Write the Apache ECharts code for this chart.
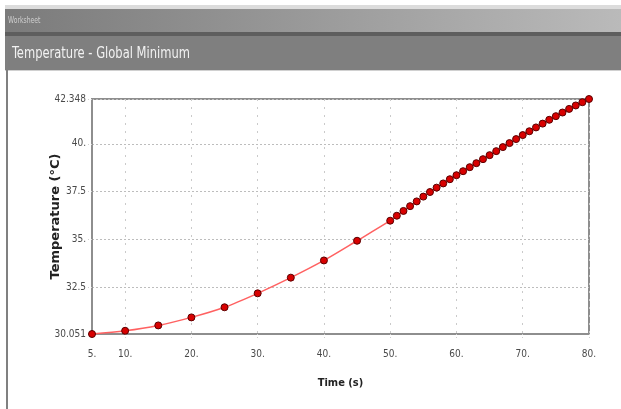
<!DOCTYPE html>
<html>
<head>
<meta charset="utf-8">
<script src="https://cdn.jsdelivr.net/npm/echarts@6/dist/echarts.min.js"></script>
<style>
html,body{margin:0;padding:0;background:#fff;}
#chart{width:621px;height:409px;}
</style>
</head>
<body>
<div id="chart"></div>
<script>
// ---- data ----
var timeValues = [5, 10, 15, 20, 25, 30, 35, 40, 45,
  50, 51, 52, 53, 54, 55, 56, 57, 58, 59,
  60, 61, 62, 63, 64, 65, 66, 67, 68, 69,
  70, 71, 72, 73, 74, 75, 76, 77, 78, 79, 80];
var tempValues = [30.051, 30.22, 30.50, 30.92, 31.45, 32.18, 33.00, 33.90, 34.93,
  35.98, 36.24, 36.49, 36.74, 36.99, 37.24, 37.48, 37.71, 37.93, 38.15,
  38.36, 38.57, 38.78, 38.99, 39.20, 39.41, 39.62, 39.83, 40.04, 40.25,
  40.46, 40.66, 40.86, 41.06, 41.26, 41.45, 41.64, 41.83, 42.01, 42.18, 42.348];
var xTickValues = [5, 10, 20, 30, 40, 50, 60, 70, 80];
var xTickLabels = ['5.', '10.', '20.', '30.', '40.', '50.', '60.', '70.', '80.'];
var yTickValues = [30.051, 32.5, 35, 37.5, 40, 42.348];
var yTickLabels = ['30.051', '32.5', '35.', '37.5', '40.', '42.348'];
var panelTitle = 'Temperature - Global Minimum';
var windowTitle = 'Worksheet';
var xAxisName = 'Time (s)';
var yAxisName = 'Temperature (°C)';

// ---- chart ----
var narrow = '"Liberation Sans Narrow", "DejaVu Sans Condensed", "Roboto Condensed", sans-serif';
function labelFor(values, labels, v) {
  for (var i = 0; i < values.length; i++) {
    if (Math.abs(values[i] - v) < 1e-6) return labels[i];
  }
  return '';
}
var seriesData = timeValues.map(function (t, i) { return [t, tempValues[i]]; });

var chart = echarts.init(document.getElementById('chart'), null, {renderer: 'canvas'});
chart.setOption({
  animation: false,
  backgroundColor: '#ffffff',
  graphic: [
    {type: 'rect', shape: {x: 5, y: 5, width: 616, height: 4}, style: {fill: '#dcdcdc'}, z: 0},
    {type: 'rect', shape: {x: 5, y: 9, width: 616, height: 23},
      style: {fill: new echarts.graphic.LinearGradient(0, 0, 1, 0, [
        {offset: 0, color: '#7b7b7b'}, {offset: 0.5, color: '#9a9a9a'}, {offset: 1, color: '#bababa'}])}, z: 0},
    {type: 'rect', shape: {x: 5, y: 32, width: 616, height: 4}, style: {fill: '#5e5e5e'}, z: 0},
    {type: 'rect', shape: {x: 5, y: 36, width: 616, height: 34}, style: {fill: '#7f7f7f'}, z: 0},
    {type: 'rect', shape: {x: 5, y: 70, width: 616, height: 1}, style: {fill: '#d0d0d0'}, z: 0},
    {type: 'rect', shape: {x: 6, y: 36, width: 2, height: 373}, style: {fill: '#808080'}, z: 0},
    {type: 'text', x: 8, y: 17, z: 1, scaleX: 0.85,
      style: {text: windowTitle, fill: '#cfcfcf', font: '8px ' + narrow}},
    {type: 'text', x: 12, y: 46, z: 1, scaleX: 0.8,
      style: {text: panelTitle, fill: '#f2f2f2', font: '16px ' + narrow}}
  ],
  grid: {left: 92, right: 32, top: 99, bottom: 75, show: true,
    borderColor: '#8e8e8e', borderWidth: 2, backgroundColor: '#ffffff'},
  xAxis: {
    type: 'value', min: 5, max: 80,
    name: xAxisName, nameLocation: 'middle', nameGap: 44,
    nameTextStyle: {fontFamily: narrow, fontWeight: 'bold', fontSize: 11, color: '#222'},
    axisLine: {show: true, lineStyle: {color: '#8e8e8e', width: 2}},
    axisTick: {show: true, customValues: xTickValues, length: 4, inside: false,
      lineStyle: {color: '#d0d0d0', type: [1, 2]}},
    axisLabel: {customValues: xTickValues, margin: 15,
      formatter: function (v) { return labelFor(xTickValues, xTickLabels, v); },
      fontFamily: narrow, fontSize: 10, color: '#4a4a4a'},
    splitLine: {show: true, lineStyle: {color: '#cacaca', width: 1, type: [2, 6]}}
  },
  yAxis: {
    type: 'value', min: 30.051, max: 42.348,
    name: yAxisName, nameLocation: 'middle', nameGap: 30, nameRotate: 90,
    nameMoveOverlap: false,
    nameTextStyle: {fontFamily: '"DejaVu Sans", sans-serif', fontWeight: 'bold', fontSize: 13, color: '#222'},
    axisLine: {show: true, lineStyle: {color: '#8e8e8e', width: 2}},
    axisTick: {show: true, customValues: yTickValues, length: 4,
      lineStyle: {color: '#d0d0d0', type: [1, 2]}},
    axisLabel: {customValues: yTickValues, margin: 6,
      formatter: function (v) { return labelFor(yTickValues, yTickLabels, v); },
      fontFamily: narrow, fontSize: 10, color: '#4a4a4a'},
    splitLine: {show: true, lineStyle: {color: '#bdbdbd', width: 1, type: [2, 2]}}
  },
  series: [{
    type: 'line',
    data: seriesData,
    smooth: 0.3,
    lineStyle: {color: '#ff6161', width: 1.5},
    symbol: 'circle',
    symbolSize: 7,
    itemStyle: {color: '#d80000', borderColor: '#5a0000', borderWidth: 1},
    clip: false,
    z: 5
  }]
});
</script>
</body>
</html>
